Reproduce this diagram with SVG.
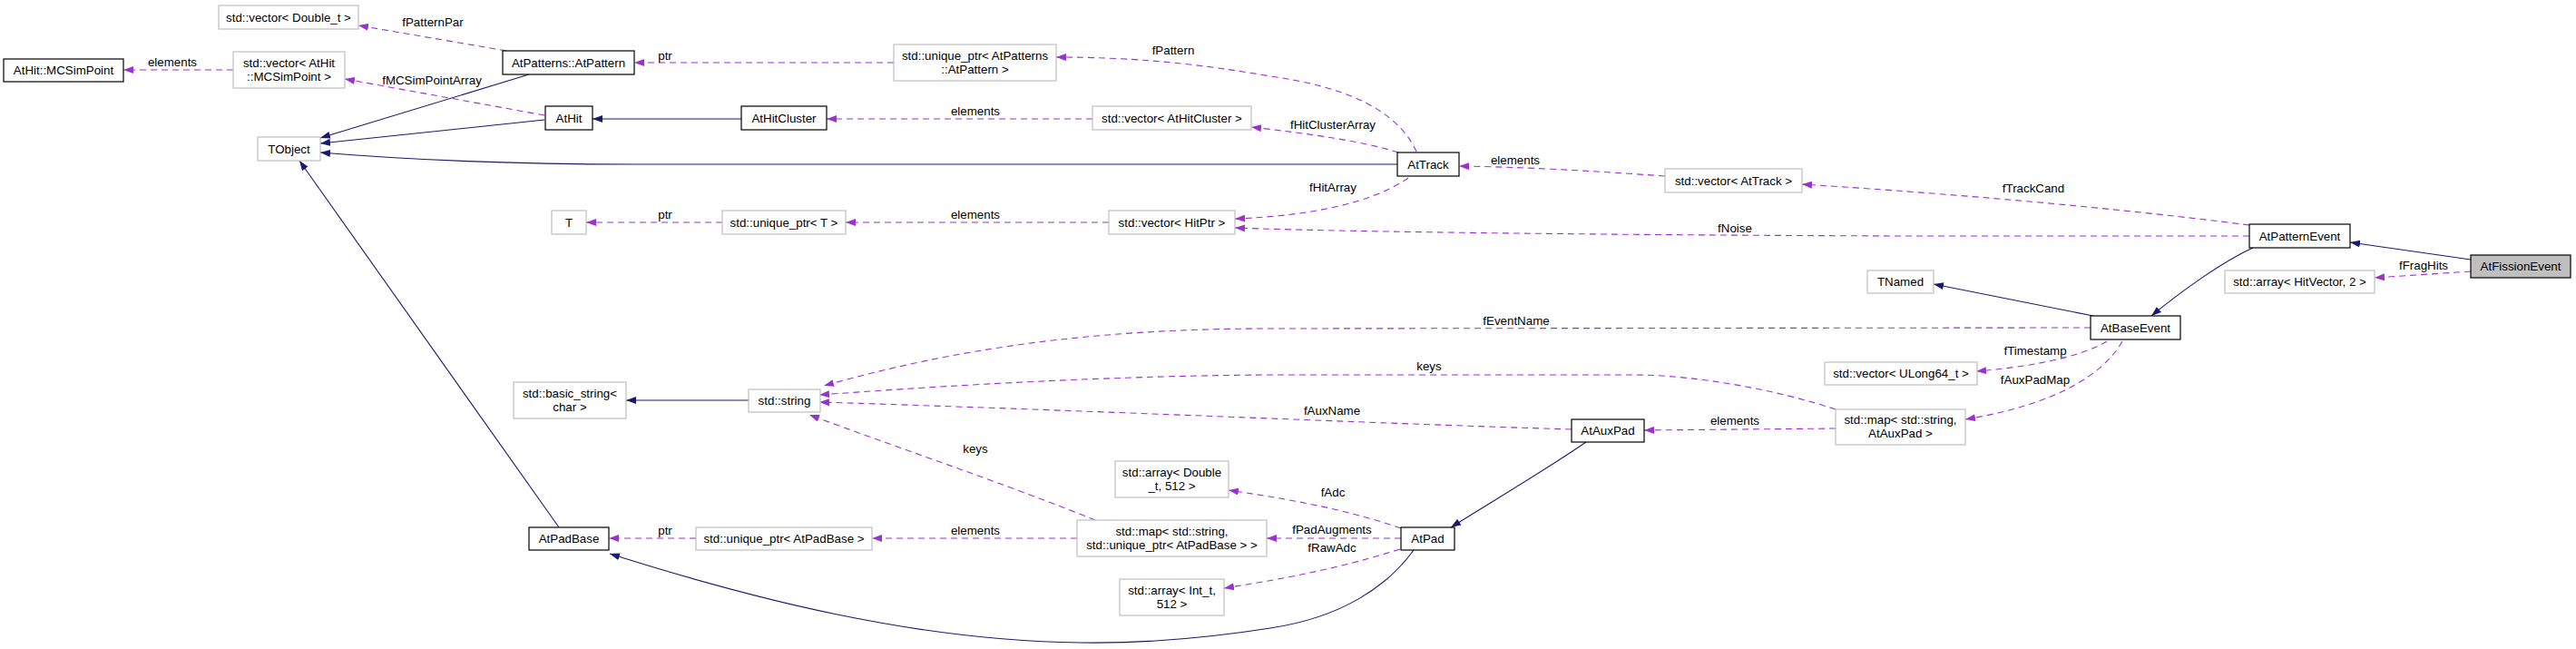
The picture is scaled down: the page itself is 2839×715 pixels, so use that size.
<svg xmlns="http://www.w3.org/2000/svg" width="2839" height="715" viewBox="0 0 2839 715">
<style>
text{font-family:"Liberation Sans",Arial,sans-serif;font-size:13.33px;fill:#000;text-anchor:middle}
.n rect{fill:#fff;stroke:#000;stroke-width:1.2}
.g rect{fill:#fff;stroke:#bfbfbf;stroke-width:1.2}
.f rect{fill:#bfbfbf;stroke:#000;stroke-width:1.2}
.inh{fill:none;stroke:#191970;stroke-width:1.1;marker-end:url(#an)}
.use{fill:none;stroke:#9a32cd;stroke-width:1.1;stroke-dasharray:7,5;marker-end:url(#ap)}
</style>
<defs>
<marker id="an" viewBox="0 0 11 8" markerWidth="11" markerHeight="8" refX="11" refY="4" orient="auto" markerUnits="userSpaceOnUse"><path d="M0,0 L11,4 L0,8 z" fill="#191970"/></marker>
<marker id="ap" viewBox="0 0 11 8" markerWidth="11" markerHeight="8" refX="11" refY="4" orient="auto" markerUnits="userSpaceOnUse"><path d="M0,0 L11,4 L0,8 z" fill="#9a32cd"/></marker>
</defs>
<rect width="2839" height="715" fill="#fff"/>
<g id="connectors">
<path class="inh" d="M2723,286 L2590,267"/>
<path class="inh" d="M2483,273 C2450,288 2405,320 2371,348"/>
<path class="inh" d="M2307,348 L2131,313"/>
<path class="inh" d="M1540,181 L700,181 C560,181 450,176 353,168"/>
<path class="inh" d="M600,132 L353,158"/>
<path class="inh" d="M583,82 L353,152"/>
<path class="inh" d="M817,131 L653,131"/>
<path class="inh" d="M616,581 L330,177"/>
<path class="inh" d="M825,441 L690,441"/>
<path class="inh" d="M1748,487 C1700,520 1640,555 1599,581"/>
<path class="inh" d="M1558,606 C1530,645 1480,680 1400,692 C1330,703 1260,709 1191,708 C1010,706 830,660 672,610"/>
<path class="use" d="M2723,299 L2617,306"/>
<path class="use" d="M2479,248 C2300,225 2100,210 1986,203"/>
<path class="use" d="M2479,260 L2100,260 C1800,259 1500,256 1361,251"/>
<path class="use" d="M2304,361 L1400,362 C1200,362 1050,385 908,425"/>
<path class="use" d="M2322,376 C2290,395 2230,405 2178,409"/>
<path class="use" d="M2339,376 C2320,410 2270,445 2166,462"/>
<path class="use" d="M2023,451 C1960,430 1870,413 1800,413 L1400,413 C1200,414 1000,428 903,435"/>
<path class="use" d="M2023,472 L1812,474"/>
<path class="use" d="M1732,473 C1500,466 1200,452 903,443"/>
<path class="use" d="M1207,573 C1100,530 980,490 892,457"/>
<path class="use" d="M1187,593 L961,593"/>
<path class="use" d="M767,593 L671,593"/>
<path class="use" d="M1544,593 L1396,593"/>
<path class="use" d="M1544,582 C1480,560 1420,550 1354,540"/>
<path class="use" d="M1543,605 C1480,625 1420,637 1349,648"/>
<path class="use" d="M1552,196 C1510,225 1440,238 1361,241"/>
<path class="use" d="M1222,245 L932,245"/>
<path class="use" d="M796,245 L646,245"/>
<path class="use" d="M1835,194 C1750,188 1680,184 1608,183"/>
<path class="use" d="M1541,168 C1500,155 1440,147 1379,140"/>
<path class="use" d="M1204,131 L911,131"/>
<path class="use" d="M1561,167 C1540,120 1480,95 1400,84 C1320,70 1250,63 1164,63"/>
<path class="use" d="M985,69 L699,69"/>
<path class="use" d="M558,56 L395,28"/>
<path class="use" d="M600,127 L380,87"/>
<path class="use" d="M257,77 L136,77"/>
<text x="2671" y="297">fFragHits</text>
<text x="2241" y="212">fTrackCand</text>
<text x="1912" y="256">fNoise</text>
<text x="1671" y="358">fEventName</text>
<text x="2243" y="391">fTimestamp</text>
<text x="2243" y="423">fAuxPadMap</text>
<text x="1575" y="408">keys</text>
<text x="1912" y="468">elements</text>
<text x="1468" y="457">fAuxName</text>
<text x="1075" y="499">keys</text>
<text x="1075" y="589">elements</text>
<text x="733" y="589">ptr</text>
<text x="1468" y="588">fPadAugments</text>
<text x="1469" y="547">fAdc</text>
<text x="1468" y="608">fRawAdc</text>
<text x="1469" y="211">fHitArray</text>
<text x="1075" y="241">elements</text>
<text x="733" y="241">ptr</text>
<text x="1670" y="181">elements</text>
<text x="1469" y="142">fHitClusterArray</text>
<text x="1075" y="127">elements</text>
<text x="1293" y="60">fPattern</text>
<text x="733" y="66">ptr</text>
<text x="477" y="29">fPatternPar</text>
<text x="476" y="93">fMCSimPointArray</text>
<text x="190" y="73">elements</text>
</g>
<g id="AtFissionEvent" class="f"><rect x="2723" y="281" width="110" height="25"/><text x="2778" y="298">AtFissionEvent</text></g>
<g id="AtPatternEvent" class="n"><rect x="2479" y="247" width="111" height="26"/><text x="2534.5" y="264.5">AtPatternEvent</text></g>
<g id="stdArrayHitVector" class="g"><rect x="2452" y="298" width="165" height="25"/><text x="2534.5" y="315">std::array&lt; HitVector, 2 &gt;</text></g>
<g id="AtBaseEvent" class="n"><rect x="2304" y="348" width="99" height="26"/><text x="2353.5" y="365.5">AtBaseEvent</text></g>
<g id="TNamed" class="g"><rect x="2058" y="298" width="73" height="25"/><text x="2094.5" y="315">TNamed</text></g>
<g id="stdVectorULong64" class="g"><rect x="2011" y="399" width="168" height="25"/><text x="2095" y="416">std::vector&lt; ULong64_t &gt;</text></g>
<g id="stdMapAtAuxPad" class="g"><rect x="2023" y="451" width="143" height="39"/><text x="2094.5" y="467">std::map&lt; std::string,</text><text x="2094.5" y="482">AtAuxPad &gt;</text></g>
<g id="AtAuxPad" class="n"><rect x="1732" y="462" width="80" height="25"/><text x="1772" y="479">AtAuxPad</text></g>
<g id="AtPad" class="n"><rect x="1544" y="581" width="59" height="25"/><text x="1573.5" y="598">AtPad</text></g>
<g id="stdVectorAtTrack" class="g"><rect x="1835" y="186" width="151" height="26"/><text x="1910.5" y="203.5">std::vector&lt; AtTrack &gt;</text></g>
<g id="AtTrack" class="n"><rect x="1540" y="168" width="68" height="26"/><text x="1574" y="185.5">AtTrack</text></g>
<g id="stdVectorHitPtr" class="g"><rect x="1222" y="232" width="139" height="26"/><text x="1291.5" y="249.5">std::vector&lt; HitPtr &gt;</text></g>
<g id="stdUniquePtrT" class="g"><rect x="796" y="232" width="136" height="26"/><text x="864" y="249.5">std::unique_ptr&lt; T &gt;</text></g>
<g id="T" class="g"><rect x="608" y="232" width="38" height="26"/><text x="627" y="249.5">T</text></g>
<g id="stdVectorAtHitCluster" class="g"><rect x="1204" y="117" width="175" height="26"/><text x="1291.5" y="134.5">std::vector&lt; AtHitCluster &gt;</text></g>
<g id="AtHitCluster" class="n"><rect x="817" y="117" width="94" height="26"/><text x="864" y="134.5">AtHitCluster</text></g>
<g id="AtHit" class="n"><rect x="601" y="117" width="52" height="26"/><text x="627" y="134.5">AtHit</text></g>
<g id="stdUniquePtrAtPattern" class="g"><rect x="985" y="49" width="179" height="40"/><text x="1074.5" y="65.5">std::unique_ptr&lt; AtPatterns</text><text x="1074.5" y="80.5">::AtPattern &gt;</text></g>
<g id="AtPatternsAtPattern" class="n"><rect x="554" y="56" width="145" height="26"/><text x="626.5" y="73.5">AtPatterns::AtPattern</text></g>
<g id="stdVectorDouble" class="g"><rect x="241" y="6" width="154" height="26"/><text x="318" y="23.5">std::vector&lt; Double_t &gt;</text></g>
<g id="stdVectorMCSimPoint" class="g"><rect x="257" y="57" width="123" height="40"/><text x="318.5" y="73.5">std::vector&lt; AtHit</text><text x="318.5" y="88.5">::MCSimPoint &gt;</text></g>
<g id="AtHitMCSimPoint" class="n"><rect x="4" y="65" width="132" height="25"/><text x="70" y="82">AtHit::MCSimPoint</text></g>
<g id="TObject" class="g"><rect x="284" y="151" width="69" height="26"/><text x="318.5" y="168.5">TObject</text></g>
<g id="stdBasicString" class="g"><rect x="566" y="421" width="124" height="40"/><text x="628" y="437.5">std::basic_string&lt;</text><text x="628" y="452.5">char &gt;</text></g>
<g id="stdString" class="g"><rect x="825" y="429" width="79" height="25"/><text x="864.5" y="446">std::string</text></g>
<g id="stdArrayDouble" class="g"><rect x="1229" y="508" width="125" height="40"/><text x="1291.5" y="524.5">std::array&lt; Double</text><text x="1291.5" y="539.5">_t, 512 &gt;</text></g>
<g id="stdUniquePtrAtPadBase" class="g"><rect x="767" y="581" width="194" height="25"/><text x="864" y="598">std::unique_ptr&lt; AtPadBase &gt;</text></g>
<g id="stdMapAtPadBase" class="g"><rect x="1187" y="573" width="209" height="40"/><text x="1291.5" y="589.5">std::map&lt; std::string,</text><text x="1291.5" y="604.5">std::unique_ptr&lt; AtPadBase &gt; &gt;</text></g>
<g id="stdArrayInt" class="g"><rect x="1234" y="638" width="115" height="40"/><text x="1291.5" y="654.5">std::array&lt; Int_t,</text><text x="1291.5" y="669.5">512 &gt;</text></g>
<g id="AtPadBase" class="n"><rect x="583" y="581" width="88" height="25"/><text x="627" y="598">AtPadBase</text></g>
</svg>
